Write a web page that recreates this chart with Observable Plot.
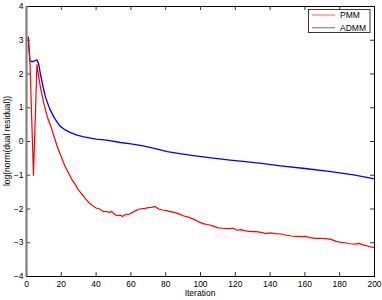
<!DOCTYPE html>
<html>
<head>
<meta charset="utf-8">
<script src="https://cdn.jsdelivr.net/npm/d3@7"></script>
<script src="https://cdn.jsdelivr.net/npm/@observablehq/plot@0.6"></script>
<style>
  html, body { margin: 0; padding: 0; background: #fff; }
  svg { display: block; }
</style>
</head>
<body>
<div id="chart"></div>
<script>
// ---- data ----
const pmmX = [1,2,4,6,8,10,12,14,16,18,20,22,24,26,28,30,32,34,36,38,40,42,44,46,48,49,50,52,54,55,57,59,61,63,65,68,70,72,74,76,78,80,82,85,88,90,93,96,99,102,104,107,110,113,116,119,121,123,126,129,132,135,137,140,143,146,149,152,155,158,160,163,166,169,172,175,178,180,183,186,189,191,194,197,200];
const pmmY = [3.05,2.35,-1.0,2.28,1.6,1.12,0.72,0.45,0.12,-0.2,-0.45,-0.72,-0.92,-1.12,-1.27,-1.45,-1.57,-1.7,-1.82,-1.9,-1.97,-2.0,-2.07,-2.08,-2.1,-2.07,-2.13,-2.2,-2.18,-2.22,-2.16,-2.15,-2.1,-2.04,-2.0,-1.98,-1.96,-1.95,-1.93,-2.0,-2.03,-2.04,-2.07,-2.1,-2.15,-2.2,-2.24,-2.3,-2.38,-2.44,-2.46,-2.5,-2.56,-2.57,-2.58,-2.57,-2.63,-2.61,-2.65,-2.67,-2.67,-2.69,-2.73,-2.71,-2.73,-2.74,-2.77,-2.8,-2.81,-2.82,-2.81,-2.85,-2.87,-2.87,-2.88,-2.9,-2.96,-2.98,-3.0,-3.03,-3.04,-3.02,-3.07,-3.11,-3.15];

const admmX = [1,2,3,4,5,6,7,8,9.6,11,13.4,16,19,22,25,29,33,40,46,54,60,67,74,81,88,96,105,117,123,135,146,160,175,188,200];
const admmY = [3.09,2.38,2.37,2.37,2.4,2.42,2.3,2.0,1.6,1.3,0.96,0.7,0.47,0.35,0.27,0.19,0.14,0.07,0.04,-0.03,-0.07,-0.13,-0.21,-0.3,-0.36,-0.42,-0.48,-0.55,-0.58,-0.65,-0.72,-0.8,-0.89,-0.99,-1.11];

const xTicks = [0,20,40,60,80,100,120,140,160,180,200];
const yTicks = [-4,-3,-2,-1,0,1,2,3,4];
const seriesNames = ["PMM","ADMM"];
const seriesColors = ["#ff0000","#0000ff"];
const xLabel = "Iteration";
const yLabel = "log(norm(dual residual))";

const pmm = pmmX.map((x,i) => ({x, y: pmmY[i]}));
const admm = admmX.map((x,i) => ({x, y: admmY[i]}));

const W = 382, H = 300;
const mL = 26, mR = 8, mT = 6, mB = 24;
const innerW = W - mL - mR, innerH = H - mT - mB;
const tk = 4;
const font = "Liberation Sans, Arial, Helvetica, sans-serif";
const minus = v => String(v).replace("-", "\u2212");

const chart = Plot.plot({
  width: W, height: H,
  marginLeft: mL, marginRight: mR, marginTop: mT, marginBottom: mB,
  style: {fontFamily: font, fontSize: "8.5px", color: "#000", background: "#fff", overflow: "visible"},
  x: {domain: [0, 200]},
  y: {domain: [-4, 4]},
  marks: [
    // inward ticks
    Plot.tickX(xTicks, {x: d => d, insetTop: innerH - tk, stroke: "#000", strokeWidth: 0.8}),
    Plot.tickX(xTicks, {x: d => d, insetBottom: innerH - tk, stroke: "#000", strokeWidth: 0.8}),
    Plot.tickY(yTicks, {y: d => d, insetRight: innerW - tk, stroke: "#000", strokeWidth: 0.8}),
    Plot.tickY(yTicks, {y: d => d, insetLeft: innerW - tk, stroke: "#000", strokeWidth: 0.8}),
    Plot.axisX(xTicks, {anchor: "bottom", tickSize: 0, tickPadding: 4, label: null, fontSize: 8.5}),
    Plot.axisY(yTicks, {anchor: "left", tickSize: 0, tickPadding: 3, label: null, tickFormat: minus, fontSize: 8.5}),
    Plot.line(admm, {x: "x", y: "y", stroke: seriesColors[1], strokeWidth: 1.3}),
    Plot.line(pmm, {x: "x", y: "y", stroke: seriesColors[0], strokeWidth: 1.2}),
    Plot.frame({stroke: "#000", strokeWidth: 1}),
    Plot.ruleX([0], {stroke: "#808080", strokeWidth: 2.2})
  ]
});

const svg = d3.select(chart);
// axis titles
svg.append("text")
  .attr("x", mL + innerW / 2).attr("y", 296)
  .attr("text-anchor", "middle").attr("font-size", 8.5).attr("font-family", font)
  .text(xLabel);
svg.append("text")
  .attr("transform", `translate(10,${mT + innerH / 2}) rotate(-90)`)
  .attr("text-anchor", "middle").attr("font-size", 8.5).attr("font-family", font)
  .text(yLabel);

// legend
const lg = svg.append("g").attr("font-family", font).attr("font-size", 8.5).attr("text-anchor", "start");
lg.append("rect").attr("x", 308.5).attr("y", 9.5).attr("width", 61.5).attr("height", 23)
  .attr("fill", "#fff").attr("stroke", "#222").attr("stroke-width", 0.9);
seriesNames.forEach((name, i) => {
  const y = 15 + i * 12.8;
  lg.append("line").attr("x1", 312).attr("x2", 335).attr("y1", y).attr("y2", y)
    .attr("stroke", seriesColors[i]).attr("stroke-width", 1).attr("stroke-opacity", 0.65);
  lg.append("text").attr("x", 340).attr("y", y).attr("dy", "0.35em").attr("text-anchor", "start").text(name);
});

document.getElementById("chart").appendChild(chart);
</script>
</body>
</html>
